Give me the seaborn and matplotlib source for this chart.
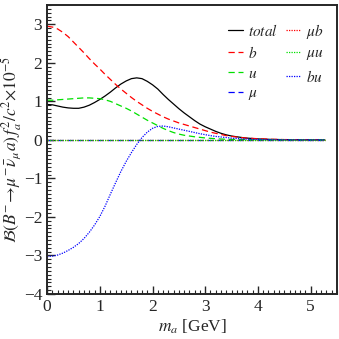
import numpy as np
import pandas as pd
import matplotlib
matplotlib.use("Agg")
import matplotlib.pyplot as plt
import seaborn as sns
from matplotlib.ticker import MultipleLocator

# m_a grid (GeV) and curves (units of 1e-5)
m_a = [0.0, 0.1, 0.2, 0.3, 0.4, 0.5, 0.6, 0.7, 0.8, 0.9,
       1.0, 1.1, 1.2, 1.3, 1.4, 1.5, 1.6, 1.7, 1.8, 1.9,
       2.0, 2.1, 2.2, 2.3, 2.4, 2.5, 2.6, 2.7, 2.8, 2.9,
       3.0, 3.1, 3.2, 3.3, 3.4, 3.5, 3.75, 4.0, 4.25, 4.5, 4.75, 5.0, 5.27]
total = [0.92, 0.91, 0.88, 0.85, 0.83, 0.82, 0.82, 0.85, 0.90, 0.97,
         1.05, 1.14, 1.24, 1.35, 1.45, 1.53, 1.59, 1.61, 1.59, 1.52,
         1.43, 1.32, 1.18, 1.05, 0.93, 0.81, 0.70, 0.60, 0.50, 0.41,
         0.34, 0.28, 0.22, 0.17, 0.13, 0.10, 0.05, 0.025, 0.012, 0.006, 0.003, 0.001, 0.0]
b = [2.95, 2.93, 2.88, 2.79, 2.68, 2.54, 2.40, 2.26, 2.11, 1.97,
     1.84, 1.70, 1.57, 1.44, 1.32, 1.21, 1.10, 1.00, 0.91, 0.82,
     0.74, 0.67, 0.60, 0.54, 0.49, 0.44, 0.40, 0.36, 0.32, 0.28,
     0.24, 0.20, 0.17, 0.14, 0.11, 0.09, 0.05, 0.03, 0.015, 0.008, 0.004, 0.002, 0.0]
u = [1.03, 1.03, 1.04, 1.05, 1.06, 1.07, 1.08, 1.09, 1.09, 1.08,
     1.07, 1.04, 1.00, 0.94, 0.88, 0.82, 0.75, 0.67, 0.59, 0.51,
     0.44, 0.37, 0.30, 0.24, 0.19, 0.15, 0.12, 0.10, 0.08, 0.065,
     0.05, 0.04, 0.03, 0.022, 0.016, 0.012, 0.006, 0.003, 0.001, 0.0, 0.0, 0.0, 0.0]
mu = [0.0] * len(m_a)
mub = [0.0] * len(m_a)
muu = [0.0] * len(m_a)
bu = [-3.03, -3.02, -2.99, -2.94, -2.87, -2.79, -2.69, -2.56, -2.40, -2.21,
      -1.99, -1.72, -1.41, -1.11, -0.82, -0.56, -0.33, -0.12, 0.06, 0.20,
      0.30, 0.35, 0.36, 0.34, 0.31, 0.28, 0.25, 0.22, 0.19, 0.16,
      0.135, 0.11, 0.09, 0.075, 0.06, 0.045, 0.02, 0.01, 0.005, 0.002, 0.001, 0.0, 0.0]

sns.set_style("ticks")
plt.rcParams["font.family"] = ["Liberation Serif", "DejaVu Serif"]
plt.rcParams["mathtext.fontset"] = "stix"

fig = plt.figure(figsize=(3.39, 3.39), dpi=100)
ax = fig.add_axes([0.139, 0.133, 0.855, 0.852])

series = [
    ("total", total, "black", "-"),
    ("b", b, "red", (0, (5, 3))),
    ("u", u, "#00e000", (0, (5, 3))),
    (r"\mu", mu, "blue", (0, (5, 3))),
    (r"\mu b", mub, "red", (0, (1, 1))),
    (r"\mu u", muu, "#00e000", (0, (1, 1))),
    ("bu", bu, "blue", (0, (1, 1))),
]
for name, vals, col, ls in series:
    sns.lineplot(x=m_a, y=vals, ax=ax, color=col, linestyle=ls, lw=0.9,
                 label=f"${name}$" if name != "total" else r"$\it{total}$")

ax.set_xlim(0, 5.5)
ax.set_ylim(-4, 3.5)
ax.xaxis.set_major_locator(MultipleLocator(1))
ax.xaxis.set_minor_locator(MultipleLocator(0.1))
ax.yaxis.set_major_locator(MultipleLocator(1))
ax.yaxis.set_minor_locator(MultipleLocator(0.1))
ax.tick_params(which="both", direction="in", top=False, right=False, labelsize=12.5)
ax.tick_params(which="major", length=6, width=1)
ax.tick_params(which="minor", length=3, width=0.8)
for sp in ax.spines.values():
    sp.set_linewidth(1.4)

ax.set_xlabel(r"$m_a$ [GeV]", fontsize=12.5, labelpad=2)
ax.set_ylabel(r"$\mathcal{B}(B^{-}\!\to\!\mu^{-}\bar{\nu}_{\mu}a)\,f_a^2/c^2{\times}10^{-5}$",
              fontsize=12.5, labelpad=0)

ax.legend(ncol=2, frameon=False, loc="upper right", bbox_to_anchor=(0.995, 0.985),
          fontsize=11, handlelength=0.95, handletextpad=0.35, columnspacing=0.5,
          labelspacing=0.4, borderpad=0.3)

fig.savefig("out.png", dpi=100)
